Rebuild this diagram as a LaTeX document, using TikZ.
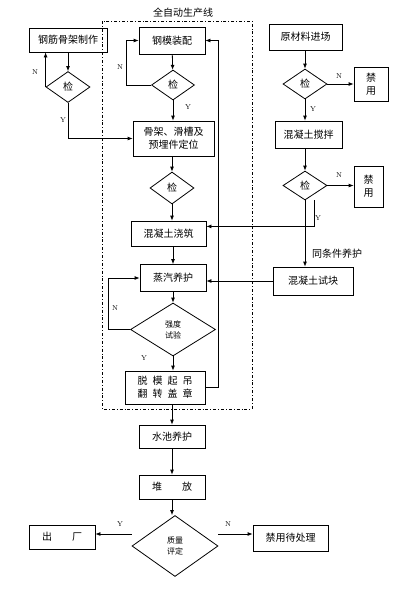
\documentclass[tikz,border=0pt]{standalone}
\usepackage{fontspec}
\newfontfamily\cjk{Noto Sans CJK SC}
\usetikzlibrary{shapes.geometric,arrows.meta}

\begin{document}
\begin{tikzpicture}[x=1pt,y=-1pt,line width=0.8pt,>={Latex[length=5pt,width=4pt]},
	every node/.style={font=\cjk\fontsize{10}{13}\selectfont},
	box/.style={draw,rectangle,align=center,inner sep=1pt},
	chk/.style={draw,diamond,inner sep=0pt,align=center},
	small/.style={font=\cjk\fontsize{8}{11}\selectfont},
	lbl/.style={font=\rmfamily\fontsize{7}{8}\selectfont,inner sep=0pt}]
	\useasboundingbox (0,0) rectangle (409,592);
	\draw[dash dot,line width=0.6pt] (102,21) rectangle (252,409);
	\node (title) at (183,13) {全自动生产线};

	\node[box,minimum width=78,minimum height=24] (gjzz) at (68,40) {钢筋骨架制作};
	\node[chk,minimum width=44,minimum height=31] (jc1) at (68,87) {检};
	\node[box,minimum width=66,minimum height=27] (gmzp) at (172,40.5) {钢模装配};
	\node[chk,minimum width=43,minimum height=30] (jc2) at (173,85) {检};
	\node[box,minimum width=81,minimum height=35] (gjdw) at (173.5,138.5) {骨架、滑槽及\\预埋件定位};
	\node[chk,minimum width=44,minimum height=32] (jc3) at (172,188) {检};
	\node[box,minimum width=75,minimum height=25] (jzz) at (168.5,233.5) {混凝土浇筑};
	\node[box,minimum width=66,minimum height=27] (zqyh) at (173,278) {蒸汽养护};
	\node[chk,small,minimum width=85,minimum height=53] (qdsy) at (173,329.5) {强度\\试验};
	\node[box,minimum width=80,minimum height=33] (tmqd) at (165,387.5) {脱\enspace 模\enspace 起\enspace 吊\\翻\enspace 转\enspace 盖\enspace 章};
	\node[box,minimum width=66,minimum height=23] (scyh) at (172,436.5) {水池养护};
	\node[box,minimum width=66,minimum height=24] (df) at (172,487) {堆\qquad 放};
	\node[chk,small,minimum width=86,minimum height=61] (zlpd) at (175,546) {质量\\评定};
	\node[box,minimum width=66,minimum height=24] (cc) at (62,537) {出\qquad 厂};
	\node[box,minimum width=75,minimum height=26] (jycl) at (290.5,538) {禁用待处理};

	\node[box,minimum width=73,minimum height=26] (ycl) at (305.5,37) {原材料进场};
	\node[chk,minimum width=44,minimum height=30] (jc4) at (305,84) {检};
	\node[box,minimum width=34,minimum height=34] (jy1) at (371,84) {禁\\用};
	\node[box,minimum width=67,minimum height=27] (jb) at (308.5,134.5) {混凝土搅拌};
	\node[chk,minimum width=44,minimum height=29] (jc5) at (305,185.5) {检};
	\node[box,minimum width=29,minimum height=41] (jy2) at (368.5,186.5) {禁\\用};
	\node[box,minimum width=80,minimum height=28] (sk) at (313,281) {混凝土试块};

	\draw[->] (gjzz) -- (jc1);
	\draw[->] (jc1.west) -- (jc1.west |- gjzz.south);
	\node[lbl] (n1) at (35,72) {N};
	\draw[->] (jc1.south) |- (gjdw.west);
	\node[lbl] (y1) at (63,120) {Y};

	\draw[->] (gmzp) -- (jc2);
	\draw[->] (jc2.west) -- ++(-25,0) |- (gmzp.west);
	\node[lbl] (n2) at (120,67) {N};
	\draw[->] (jc2.south) -- (jc2.south |- gjdw.north);
	\node[lbl] (y2) at (188,107) {Y};
	\draw[->] (gjdw.south -| jc3.north) -- (jc3.north);
	\draw[->] (jc3.south) -- (jc3.south |- jzz.north);
	\draw[->] (zqyh.north |- jzz.south) -- (zqyh.north);
	\draw[->] (zqyh) -- (qdsy);
	\draw[->] (qdsy.west) -- ++(-22,0) |- (zqyh.west);
	\node[lbl] (n3) at (115,308) {N};
	\draw[->] (qdsy.south) -- (qdsy.south |- tmqd.north);
	\node[lbl] (y3) at (144,358) {Y};
	\draw[->] (tmqd.east) -- ++(13,0) |- (gmzp.east);
	\draw[->] (scyh.north |- tmqd.south) -- (scyh.north);
	\draw[->] (scyh) -- (df);
	\draw[->] (df.south) -- (df.south |- zlpd.north);

	\coordinate (ya) at ([yshift=12pt]zlpd.west);
	\coordinate (na) at ([yshift=12pt]zlpd.east);
	\draw[->] (ya) -- (ya -| cc.east);
	\node[lbl] (y4) at (120,524) {Y};
	\draw[->] (na) -- (na -| jycl.west);
	\node[lbl] (n4) at (228,524) {N};

	\draw[->] (ycl.south -| jc4.north) -- (jc4.north);
	\draw[->] (jc4) -- (jy1);
	\node[lbl] (n5) at (339,76) {N};
	\draw[->] (jc4.south) -- (jc4.south |- jb.north);
	\node[lbl] (y5) at (313,109) {Y};
	\draw[->] (jc5.north |- jb.south) -- (jc5.north);
	\draw[->] (jc5.east) -- (jc5.east -| jy2.west);
	\node[lbl] (n6) at (339,175) {N};
	\draw[->] (jc5.south) -- (jc5.south |- sk.north);
	\node (tjj) at (337,254) {同条件养护};
	\coordinate (yb) at ([xshift=9pt]jc5.south);
	\coordinate (yc) at ([yshift=-26pt]yb);
	\draw[->] (yb) -- (yc) -- (yc -| jzz.east);
	\node[lbl] (y6) at (318,218) {Y};
	\draw[->] (sk.west) -- (sk.west -| zqyh.east);
\end{tikzpicture}
\end{document}
